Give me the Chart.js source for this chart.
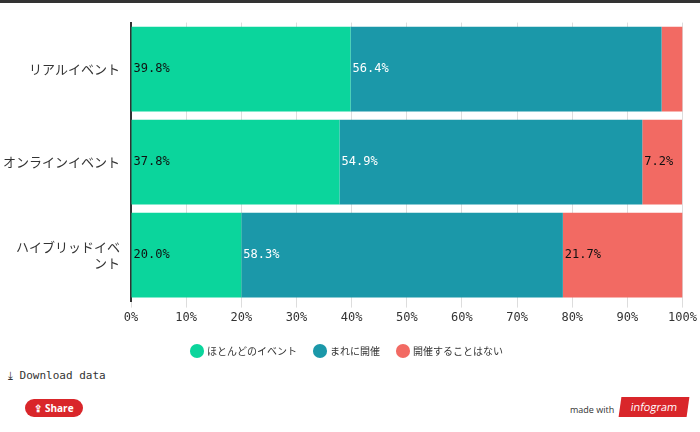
<!DOCTYPE html>
<html><head><meta charset="utf-8">
<script src="https://cdn.jsdelivr.net/npm/chart.js@4"></script>
<style>
body{margin:0;width:700px;height:432px;background:#fff;font-family:"Noto Sans CJK JP",sans-serif;position:relative;overflow:hidden}
#top{position:absolute;left:0;top:0;width:700px;height:3px;background:#333}
#wrap{position:absolute;left:0;top:4px;width:700px;height:362px}
#dl{position:absolute;left:8px;top:369px;font:11px "DejaVu Sans Mono",monospace;color:#333}
#share{position:absolute;left:25px;top:399px;width:58px;height:18px;border-radius:9px;background:#d9262a;color:#fff;font:bold 10px "Open Sans",sans-serif;line-height:18px;text-align:center}
#mw{position:absolute;left:570px;top:403px;font:9px "Open Sans",sans-serif;color:#333}
#ig{position:absolute;left:620px;top:397px;width:68px;height:20px;background:#d9262a;color:#fff;font:11px "Open Sans",sans-serif;line-height:20px;text-align:center;transform:skewX(-8deg)}
</style></head><body>
<div id="top"></div>
<div id="wrap"><canvas id="c"></canvas></div>
<div id="dl">⤓ Download data</div>
<div id="share">⇪ Share</div>
<div id="mw">made with</div>
<div id="ig">infogram</div>
<script>
const categories=[["リアルイベント"],["オンラインイベント"],["ハイブリッドイベ","ント"]];
const seriesNames=["ほとんどのイベント","まれに開催","開催することはない"];
const mostly=[39.8,37.8,20.0];
const rarely=[56.4,54.9,58.3];
const never=[3.8,7.2,21.7];
const colors=["#0bd59c","#1b98a9","#f26a63"];
const labelColors=["#111","#fff","#111"];
const labelPlugin={id:'lbl',afterDatasetsDraw(ch){const ctx=ch.ctx;ctx.save();ctx.font='12px "DejaVu Sans Mono",monospace';ctx.textBaseline='middle';
ch.data.datasets.forEach((ds,i)=>{ch.getDatasetMeta(i).data.forEach((b,j)=>{const v=ds.data[j];if(v<5)return;ctx.fillStyle=labelColors[i];ctx.fillText(v.toFixed(1)+'%',b.base+2,b.y);});});ctx.restore();}};
new Chart(document.getElementById('c'),{type:'bar',
data:{labels:categories,datasets:[mostly,rarely,never].map((d,i)=>({label:seriesNames[i],data:d,backgroundColor:colors[i],barPercentage:0.91,categoryPercentage:1}))},
options:{indexAxis:'y',responsive:true,maintainAspectRatio:false,animation:false,
layout:{padding:{top:10,right:5,left:0}},
scales:{x:{stacked:true,min:0,max:100,ticks:{stepSize:10,callback:v=>v+'%',color:'#333',font:{size:12,family:'"DejaVu Sans Mono",monospace'}},grid:{color:'#ddd',drawTicks:true,tickLength:6},border:{display:false}},
y:{stacked:true,ticks:{color:'#333',font:{size:13,family:'"Noto Sans CJK JP"'}},grid:{display:false},border:{color:'#333',width:2}}},
plugins:{legend:{position:'bottom',labels:{usePointStyle:true,pointStyle:'circle',boxWidth:10,boxHeight:10,padding:18,color:'#333',font:{size:10,family:'"Noto Sans CJK JP"'}}},tooltip:{enabled:false}}},
plugins:[labelPlugin]});
</script></body></html>
